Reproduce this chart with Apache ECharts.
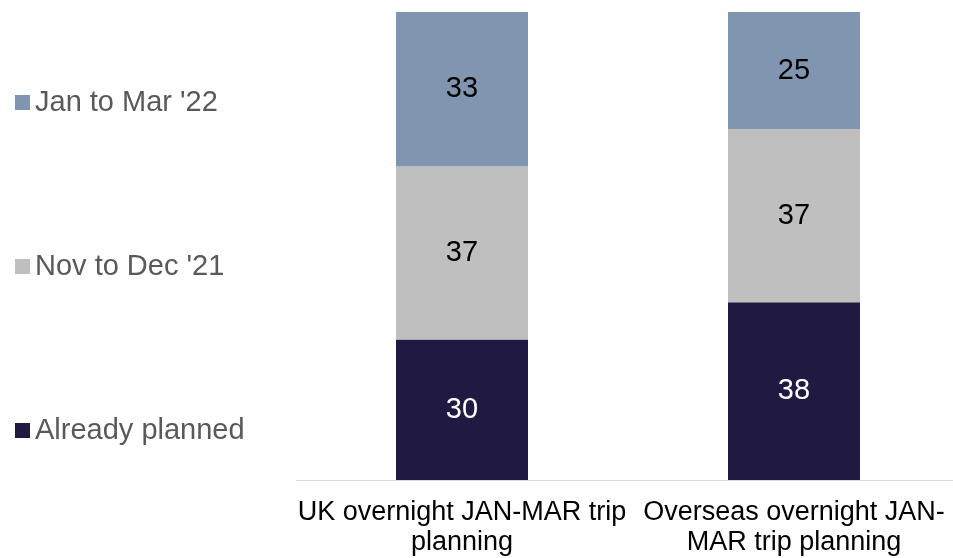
<!DOCTYPE html>
<html><head><meta charset="utf-8">
<script src="https://cdn.jsdelivr.net/npm/echarts@6/dist/echarts.min.js"></script>
<style>html,body{margin:0;padding:0;background:#fff;overflow:hidden}#c{width:960px;height:558px}</style>
</head><body><div id="c"></div>
<script>
const categories = ["UK overnight JAN-MAR trip\nplanning", "Overseas overnight JAN-\nMAR trip planning"];
const alreadyPlanned = [30, 38];
const novToDec = [37, 37];
const janToMar = [33, 25];
const seriesNames = ["Already planned", "Nov to Dec '21", "Jan to Mar '22"];
const colors = ["#201A42", "#BFBFBF", "#8095AF"];
const values = [alreadyPlanned, novToDec, janToMar];

const chart = echarts.init(document.getElementById('c'));
chart.setOption({
  animation: false,
  textStyle: { fontFamily: "Liberation Sans, Arial, sans-serif" },
  legend: {
    orient: 'vertical', left: 15, top: 88, itemGap: 135, padding: 0,
    itemWidth: 15, itemHeight: 15,
    icon: 'rect',
    data: seriesNames.slice().reverse(),
    textStyle: { fontSize: 29, color: '#595959', fontFamily: "Liberation Sans, Arial, sans-serif" }
  },
  grid: { left: 296, right: 0, top: 12, bottom: 77 },
  xAxis: {
    type: 'category', data: categories,
    axisLine: { lineStyle: { color: '#D9D9D9', width: 1 } },
    axisTick: { show: false },
    axisLabel: { fontSize: 27, color: '#000', margin: 18, lineHeight: 30, interval: 0 }
  },
  yAxis: { type: 'value', min: 0, max: 100, show: false, splitLine: { show: false } },
  series: values.map((v, i) => ({
    name: seriesNames[i], type: 'bar', stack: 'a', data: v, barWidth: 132,
    itemStyle: { color: colors[i] },
    label: { show: true, position: 'inside', fontSize: 29, color: i === 0 ? '#fff' : '#000' }
  }))
});
</script></body></html>
